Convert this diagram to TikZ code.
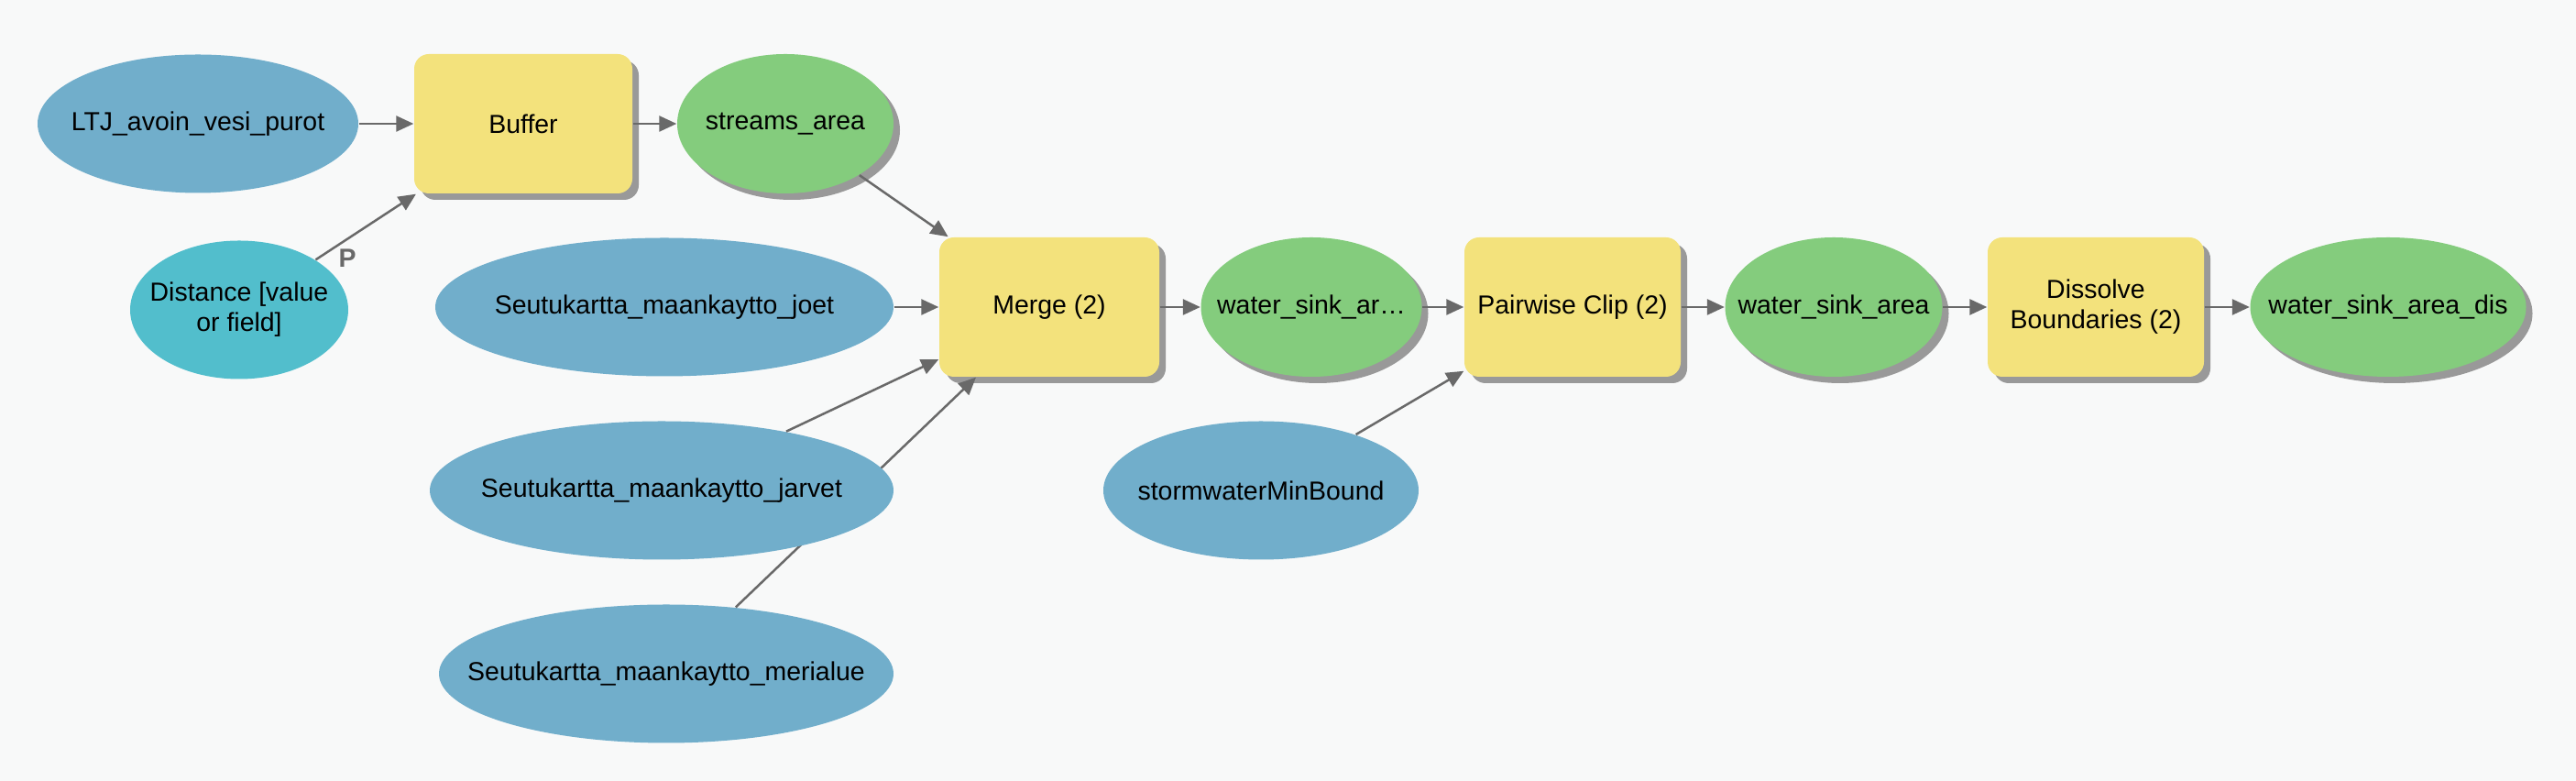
\documentclass[tikz,border=0pt]{standalone}
\usepackage{fontspec}
\setmainfont{Liberation Sans}
\usetikzlibrary{shapes.geometric,arrows.meta,shadows}

\definecolor{bgcol}{RGB}{248,249,249}
\definecolor{inblue}{RGB}{113,174,203}
\definecolor{parcyan}{RGB}{82,190,204}
\definecolor{outgreen}{RGB}{132,204,125}
\definecolor{toolyellow}{RGB}{243,226,124}
\definecolor{shadowgray}{RGB}{153,153,153}
\definecolor{linegray}{RGB}{105,105,105}

\newcommand{\zw}[1]{\makebox[0pt]{#1}}

\begin{document}
\begin{tikzpicture}[
    every node/.style={font=\fontsize{8.1}{9.4}\selectfont, text=black},
    shade/.style={drop shadow={shadow xshift=0.07cm, shadow yshift=-0.07cm, fill=shadowgray, opacity=1}},
    datain/.style={ellipse, fill=inblue, minimum height=1.51cm, inner sep=0pt},
    param/.style={ellipse, fill=parcyan, minimum height=1.51cm, inner sep=0pt, align=center},
    dataout/.style={ellipse, fill=outgreen, minimum height=1.52cm, inner sep=0pt, shade},
    tool/.style={rectangle, rounded corners=0.16cm, fill=toolyellow, minimum width=2.38cm, minimum height=1.52cm, inner sep=0pt, align=center, shade},
    flow/.style={draw=linegray, line width=0.025cm, -{Triangle[length=0.19cm, width=0.17cm]}}
]
    \fill[bgcol] (0,0) rectangle (28.11,8.52);

    % model inputs
    \node[datain, minimum width=3.50cm] (ltj) at (2.16,7.17) {\zw{LTJ\_avoin\_vesi\_purot}};
    \node[param, minimum width=2.38cm] (dist) at (2.61,5.14) {\zw{Distance [value}\\\zw{or field]}};
    \node[datain, minimum width=5.00cm] (joet) at (7.25,5.17) {\zw{Seutukartta\_maankaytto\_joet}};
    \node[datain, minimum width=4.96cm] (meri) at (7.27,1.17) {\zw{Seutukartta\_maankaytto\_merialue}};
    \node[datain, minimum width=3.44cm] (storm) at (13.76,3.17) {\zw{stormwaterMinBound}};

    % tools and outputs
    \node[tool] (buffer) at (5.71,7.17) {Buffer};
    \node[dataout, minimum width=2.36cm] (streams) at (8.57,7.17) {\zw{streams\_area}};
    \node[tool, minimum width=2.40cm] (merge) at (11.45,5.17) {Merge (2)};
    \node[dataout, minimum width=2.41cm] (wsar) at (14.31,5.17) {\zw{water\_sink\_ar…}};
    \node[tool, minimum width=2.36cm] (clip) at (17.16,5.17) {Pairwise Clip (2)};
    \node[dataout, minimum width=2.37cm] (wsa) at (20.01,5.17) {\zw{water\_sink\_area}};
    \node[tool, minimum width=2.36cm] (diss) at (22.87,5.17) {Dissolve\\Boundaries (2)};
    \node[dataout, minimum width=3.01cm] (wsad) at (26.06,5.17) {\zw{water\_sink\_area\_dis}};

    % this one runs under the jarvet ellipse
    \draw[flow] (meri) -- (merge);
    \node[datain, minimum width=5.06cm] (jarvet) at (7.22,3.17) {\zw{Seutukartta\_maankaytto\_jarvet}};

    \draw[flow] (ltj) -- (buffer);
    \draw[flow] (dist) -- (buffer);
    \node[text=linegray, font=\fontsize{8.1}{9.4}\selectfont\bfseries] (p) at (3.79,5.70) {P};
    \draw[flow] (buffer) -- (streams);
    \draw[flow] (streams) -- (merge);
    \draw[flow] (joet) -- (merge);
    \draw[flow] (jarvet) -- (merge);
    \draw[flow] (merge) -- (wsar);
    \draw[flow] (wsar) -- (clip);
    \draw[flow] (storm) -- (clip);
    \draw[flow] (clip) -- (wsa);
    \draw[flow] (wsa) -- (diss);
    \draw[flow] (diss) -- (wsad);
\end{tikzpicture}
\end{document}
